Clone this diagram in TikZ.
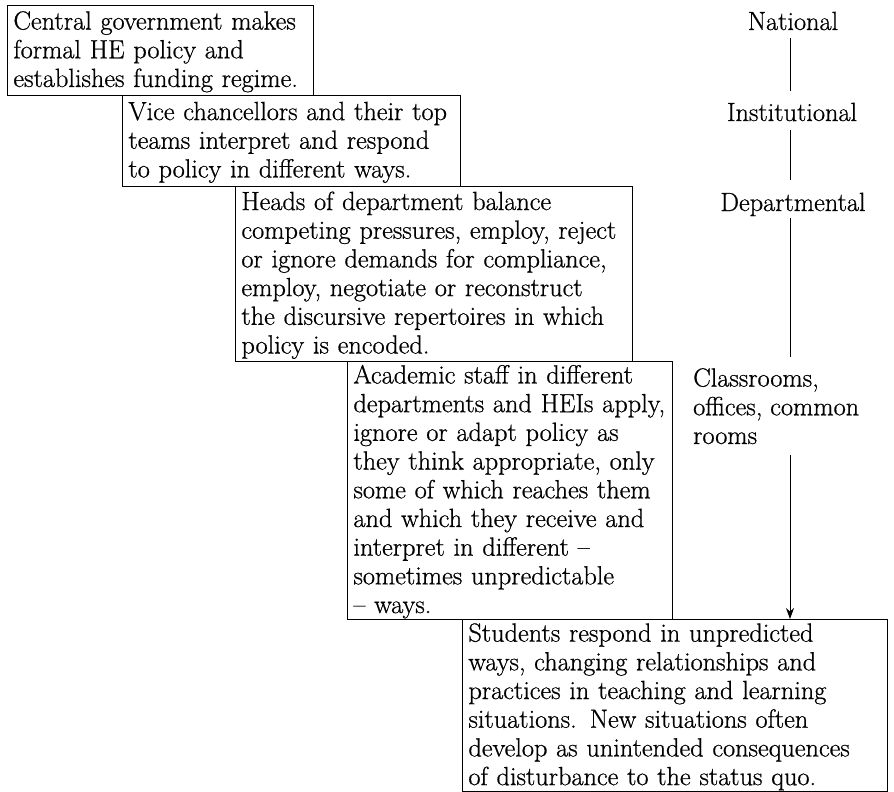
\documentclass[tikz,border=0pt]{standalone}
\usepackage{fontspec}
\setmainfont{Latin Modern Roman}[FakeBold=0.7]
\usetikzlibrary{arrows.meta}
\definecolor{ink}{RGB}{0,0,0}
\newcommand{\stagefont}{\fontsize{26.3bp}{28.7bp}\selectfont}
\tikzset{
  stage/.style={draw=ink,line width=0.9bp,anchor=north west,align=left,inner xsep=6bp,inner ysep=0pt,font=\stagefont,text=ink,
    execute at begin node={\rule{0pt}{21bp}}},
  level/.style={font=\stagefont,text=ink,inner sep=0pt,text height=18bp,text depth=0pt,anchor=base},
  note/.style={font=\stagefont,text=ink,inner sep=0pt,align=left,anchor=north west},
  lane/.style={ink,line width=0.9bp},
  flow/.style={-{Stealth[length=11bp,width=8bp]},ink,line width=0.9bp},
}

\begin{document}
\begin{tikzpicture}[x=1bp,y=-1bp]
\useasboundingbox (0,0) rectangle (894,792);
% ---- cascading boxes ----
\node[stage,text width=294bp,minimum height=90bp] (gov) at (7,5)
  {Central government makes\\formal HE policy and\\establishes funding regime.};
\node[stage,text width=326bp,minimum height=91bp] (vc) at (122,95)
  {Vice chancellors and their top\\teams interpret and respond\\to policy in different ways.};
\node[stage,text width=385bp,minimum height=175bp] (hod) at (235,186)
  {Heads of department balance\\competing pressures, employ, reject\\or ignore demands for compliance,\\employ, negotiate or reconstruct\\the discursive repertoires in which\\policy is encoded.};
\node[stage,text width=313bp,minimum height=258bp] (staff) at (347,361)
  {Academic staff in different\\departments and HEIs apply,\\ignore or adapt policy as\\they think appropriate, only\\some of which reaches them\\and which they receive and\\interpret in different --\\sometimes unpredictable\\-- ways.};
\node[stage,text width=413bp,minimum height=172bp] (students) at (462,619)
  {Students respond in unpredicted\\ways, changing relationships and\\practices in teaching and learning\\situations. New situations often\\develop as unintended consequences\\of disturbance to the status quo.};

% ---- levels ----
\coordinate (lane) at (790,0);
\node[level] (nat) at (793,30) {National};
\node[level] (inst) at (792,121) {Institutional};
\node[level] (dept) at (793,211) {Departmental};
\node[note] (room) at (693,368) {Classrooms,\\offices, common\\rooms};

\draw[lane,shorten <=8bp,shorten >=12bp] (lane |- nat.south) -- (lane |- inst.north);
\draw[lane,shorten <=9bp,shorten >=13bp] (lane |- inst.south) -- (lane |- dept.north);
\draw[lane,shorten <=7bp,shorten >=11bp] (lane |- dept.south) -- (lane |- room.north);
\draw[flow,shorten <=11bp] (lane |- room.south) -- (lane |- students.north);
\end{tikzpicture}
\end{document}
